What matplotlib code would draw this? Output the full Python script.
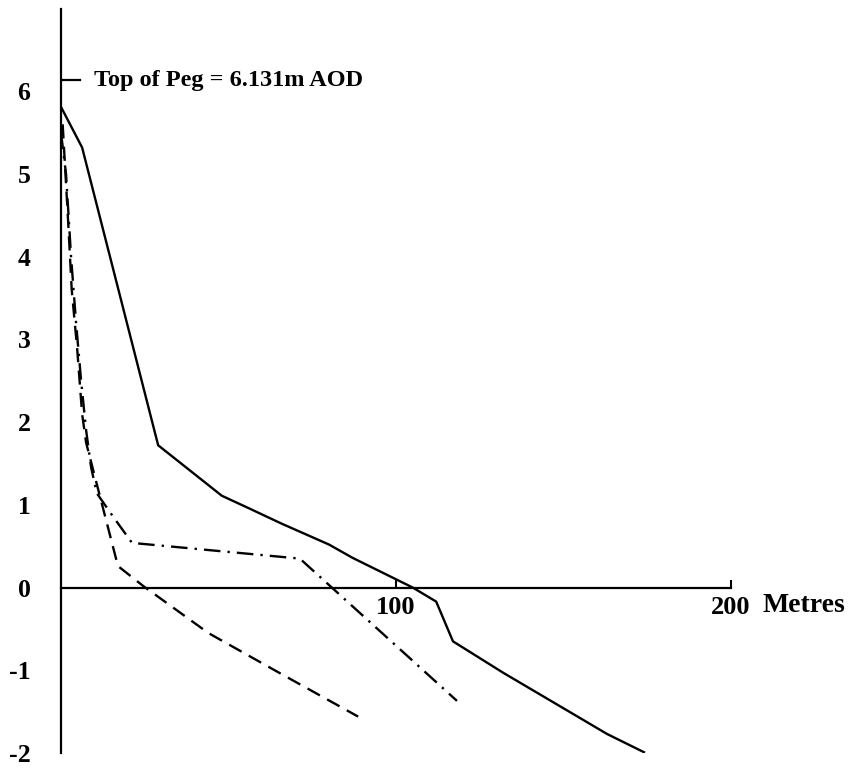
import matplotlib.pyplot as plt

# beach profile, distance (m) vs height (m AOD)
solid_x = [0, 6.3, 29, 48, 56, 66, 80, 87, 105, 112, 117, 132, 163, 174]
solid_y = [5.81, 5.32, 1.72, 1.11, 0.96, 0.77, 0.52, 0.36, 0.0, -0.17, -0.65, -1.03, -1.77, -1.99]

dashed_x = [0.5, 2.1, 3.2, 4.8, 6.3, 7.5, 17.0, 24.5, 44.0, 66.0, 88.7]
dashed_y = [5.6, 4.45, 3.6, 2.9, 2.1, 1.75, 0.26, 0.02, -0.55, -1.05, -1.56]

dashdot_x = [0, 1.5, 3.0, 4.5, 6.0, 7.5, 9.0, 10.7, 15.5, 21.2, 71.3, 118.2]
dashdot_y = [5.5, 5.0, 4.0, 3.2, 2.5, 1.9, 1.45, 1.14, 0.86, 0.54, 0.35, -1.37]

peg_height = 6.131
y_ticks = [-2, -1, 0, 1, 2, 3, 4, 5, 6]
x_ticks = [100, 200]

plt.rcParams['font.family'] = ['Liberation Serif', 'DejaVu Serif']
plt.rcParams['font.weight'] = 'bold'

fig = plt.figure(figsize=(8.56, 7.69), dpi=100)
ax = fig.add_axes([61 / 856, 16 / 769, 670 / 856, 744.5 / 769])

ax.plot(solid_x, solid_y, color='black', lw=1.7)
ax.plot(dashed_x, dashed_y, color='black', lw=1.7, linestyle=(0, (6, 3.5)))
ax.plot(dashdot_x, dashdot_y, color='black', lw=1.7, linestyle=(0, (7, 3, 1, 3)))

# peg marker
ax.plot([0, 5.8], [peg_height, peg_height], color='black', lw=1.6)
ax.text(10, peg_height, 'Top of Peg = 6.131m AOD', fontsize=17.5, fontweight='bold',
        va='center', ha='left')

ax.set_xlim(0, 200)
ax.set_ylim(-2, 7)

for s in ['top', 'right']:
    ax.spines[s].set_visible(False)
ax.spines['left'].set_linewidth(1.6)
ax.spines['bottom'].set_position(('data', 0))
ax.spines['bottom'].set_linewidth(1.6)

ax.set_yticks(y_ticks)
ax.set_yticklabels([str(v) for v in y_ticks], fontsize=18.5, fontweight='bold',
                   va='center_baseline')
ax.set_yticks([-2, -1, 1, 2, 3, 4, 5], minor=True)
ax.tick_params(axis='y', which='major', length=0, pad=22)
ax.tick_params(axis='y', which='minor', direction='in', length=6, width=1.5)

ax.set_xticks(x_ticks)
ax.set_xticklabels([str(v) for v in x_ticks], fontsize=19, fontweight='bold')
ax.tick_params(axis='x', which='major', direction='in', length=6, width=1.5, pad=6)
ax.text(209.3, -0.07, 'Metres', fontsize=20, fontweight='bold', va='top', ha='left')

fig.savefig('out.png', dpi=100)
